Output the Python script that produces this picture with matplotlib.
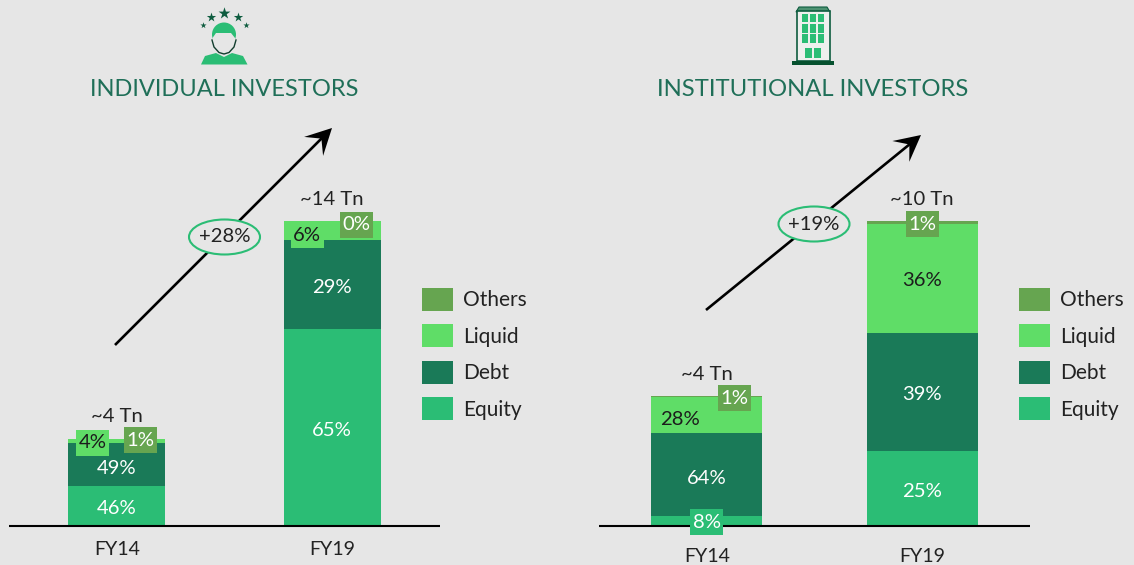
import numpy as np
import matplotlib
matplotlib.use("Agg")
import matplotlib.pyplot as plt
from matplotlib.patches import Rectangle, Ellipse, Polygon, PathPatch
from matplotlib.path import Path

W, H = 1134, 565
BG = "#e6e6e6"
C_EQ, C_DEBT, C_LIQ, C_OTH = "#2bbd75", "#1a7a58", "#5fdd67", "#66a550"
C_TITLE = "#1f6f58"
C_DARK = "#0e5c3f"
TEXT = "#222222"

# ---- data ----
categories = ["FY14", "FY19"]
series_names = ["Equity", "Debt", "Liquid", "Others"]
ind_totals = [4.0, 13.95]
inst_totals = [4.26, 10.0]
ind_total_labels = ["~4 Tn", "~14 Tn"]
inst_total_labels = ["~4 Tn", "~10 Tn"]
ind_equity = [46, 64.6]
ind_debt = [49, 29.2]
ind_liquid = [4, 6.2]
ind_others = [1, 0]
inst_equity = [8, 25]
inst_debt = [64, 39]
inst_liquid = [28, 36]
inst_others = [1, 1]
ind_growth = "+28%"
inst_growth = "+19%"

plt.rcParams["font.family"] = ["Lato", "DejaVu Sans"]
FS = 14.6
fig = plt.figure(figsize=(W / 100, H / 100), dpi=100, facecolor=BG)
colors = [C_EQ, C_DEBT, C_LIQ, C_OTH]
label_colors = ["white", "white", "#1c1c1c", "white"]
BASE_Y, TOP_Y = 526, 100


def make_axes(x0, x1):
    ax = fig.add_axes([x0 / W, 1 - BASE_Y / H, (x1 - x0) / W, (BASE_Y - TOP_Y) / H])
    ax.patch.set_alpha(0)
    for s in ("top", "left", "right"):
        ax.spines[s].set_visible(False)
    ax.spines["bottom"].set_linewidth(1.5)
    ax.spines["bottom"].set_color("#000000")
    ax.spines["bottom"].set_capstyle("butt")
    ax.set_yticks([])
    ax.set_xlim(-0.5, 1.5)
    ax.set_xticks([0, 1], categories)
    ax.tick_params(axis="x", length=0, labelsize=14.1, labelcolor=TEXT)
    return ax


def fixed_box(x, y, w, h, mutation_size):
    bw, bh = 33.0, 26.0
    cx, cy = x + w / 2, y + h / 2
    return Path([(cx - bw / 2, cy - bh / 2), (cx + bw / 2, cy - bh / 2),
                 (cx + bw / 2, cy + bh / 2), (cx - bw / 2, cy + bh / 2),
                 (cx - bw / 2, cy - bh / 2)], closed=True)


def stacked(ax, totals, total_labels, stacks, width, offsets, boxed, total_gap):
    for i, total in enumerate(totals):
        shares = [s[i] for s in stacks]
        sm = sum(shares)
        bottom = 0.0
        for k, share in enumerate(shares):
            h = total * share / sm
            ax.bar(i, h, width, bottom=bottom, color=colors[k], linewidth=0, zorder=2)
            mid = bottom + h / 2
            dx, dy = offsets[i][k]
            bbox = dict(boxstyle=fixed_box, fc=colors[k], ec="none") if boxed[i][k] else None
            ax.annotate(f"{share:.0f}%", xy=(i, mid), xytext=(dx * 0.72, -dy * 0.72),
                        textcoords="offset points", ha="center", va="center_baseline",
                        fontsize=FS, color=label_colors[k], bbox=bbox,
                        zorder=5 + k, annotation_clip=False)
            bottom += h
        ax.annotate(total_labels[i], xy=(i, total), xytext=(0, total_gap[i] * 0.72),
                    textcoords="offset points", ha="center", va="center_baseline",
                    fontsize=FS, color=TEXT, zorder=8)


px_per_unit_l = 21.86
px_per_unit_r = 30.5

axl = make_axes(9, 440)
axl.set_ylim(0, (BASE_Y - TOP_Y) / px_per_unit_l)
stacked(axl, ind_totals, ind_total_labels, [ind_equity, ind_debt, ind_liquid, ind_others], 0.45,
        [[(0, 1), (0, 3), (-24, 0), (24, 0)], [(0, 1), (0, 2), (-25, 3), (24, 2)]],
        [[False, False, True, True], [False, False, True, True]], [24, 23])
axl.tick_params(axis="x", pad=11)

axr = make_axes(599, 1030)
axr.set_ylim(0, (BASE_Y - TOP_Y) / px_per_unit_r)
stacked(axr, inst_totals, inst_total_labels, [inst_equity, inst_debt, inst_liquid, inst_others], 0.515,
        [[(0, 0), (0, 2), (-27, 3), (28, 0)], [(0, 2), (0, 1), (0, 1), (0, 0)]],
        [[True, False, False, True], [False, False, False, True]], [23, 23])
axr.tick_params(axis="x", pad=16)

# legends
LFS = 15.0
for ax, x_px in ((axl, 422), (axr, 1019)):
    handles = [Rectangle((0, 0), 1, 1, fc=c, ec="none") for c in colors[::-1]]
    ax.legend(handles, series_names[::-1], loc="upper left",
              bbox_to_anchor=(x_px / W, 1 - 288 / H), bbox_transform=fig.transFigure,
              frameon=False, fontsize=LFS, labelcolor=TEXT, handlelength=1.5,
              handleheight=1.3, labelspacing=0.66, handletextpad=0.46,
              borderpad=0, borderaxespad=0)

# overlay in pixel coordinates: titles, icons, growth arrows
ov = fig.add_axes([0, 0, 1, 1], zorder=10)
ov.set_xlim(0, W)
ov.set_ylim(H, 0)
ov.axis("off")

ov.text(224, 90, "INDIVIDUAL INVESTORS", ha="center", va="center", fontsize=17,
        color=C_TITLE)
ov.text(813, 90, "INSTITUTIONAL INVESTORS", ha="center", va="center", fontsize=17.2,
        color=C_TITLE)


def growth_arrow(x0, y0, x1, y1):
    d = np.array([x1 - x0, y1 - y0], float)
    d /= np.hypot(*d)
    n = np.array([-d[1], d[0]])
    tip = np.array([x1, y1], float)
    ov.plot([x0, x1 - d[0] * 14], [y0, y1 - d[1] * 14], color="black", lw=1.9, solid_capstyle="butt")
    ov.add_patch(Polygon([tip, tip - 26 * d + 13.4 * n, tip - 15 * d, tip - 26 * d - 13.4 * n],
                         fc="black", ec="none"))


for (x0, y0, x1, y1), (ex, ey), txt in (((115, 345, 332, 128), (224.5, 237), ind_growth),
                                        ((706, 310, 921, 135), (814, 224), inst_growth)):
    growth_arrow(x0, y0, x1, y1)
    ov.add_patch(Ellipse((ex, ey), 71, 35, fc=BG, ec=C_EQ, lw=1.5, zorder=6))
    ov.text(ex, ey, txt, ha="center", va="center", fontsize=FS, color=TEXT, zorder=7)

# person icon
for (sx, sy, ss) in ((203, 24.5, 22), (210.5, 17, 50), (224, 13, 80), (238, 17, 50), (245.5, 24.5, 22)):
    ov.scatter([sx], [sy], marker="*", s=ss, color=C_DARK, linewidths=0)
ov.add_patch(Ellipse((224, 34.5), 24, 24, fc=C_EQ, ec="none"))
ov.add_patch(Polygon([(212.5, 38), (216, 33), (231, 33), (235, 38), (235, 44), (229, 52), (224, 54),
                      (219, 52), (213, 44)], fc=BG, ec="none"))
ov.plot([212, 214, 219, 224, 229, 234, 236], [40, 47, 52.5, 54, 52.5, 47, 40], color="#123d2e", lw=1)
ov.add_patch(PathPatch(Path([(201, 64.5), (205, 56), (216, 53), (224, 57), (232, 53), (243, 56), (247.5, 64.5), (201, 64.5)]),
                       fc=C_EQ, ec="none"))

# building icon
ov.add_patch(Polygon([(796, 12), (799, 7), (827, 7), (830, 12)], fc="#4d9272", ec=C_DARK, lw=0.8))
ov.add_patch(Rectangle((796.5, 11), 33, 49.5, fc="#eef0ee", ec=C_DARK, lw=1.2))
for wy in (14, 24.2, 34.3):
    for wx in (801.7, 810, 818):
        ov.add_patch(Rectangle((wx, wy), 6, 8.3, fc=C_EQ, ec="none"))
for dx in (805, 813.7):
    ov.add_patch(Rectangle((dx, 48.3), 7.3, 10, fc=C_EQ, ec="none"))
ov.add_patch(Rectangle((792, 60.7), 42, 4.6, fc="#06512f", ec="none"))

fig.savefig("out.png", dpi=100, facecolor=BG)
